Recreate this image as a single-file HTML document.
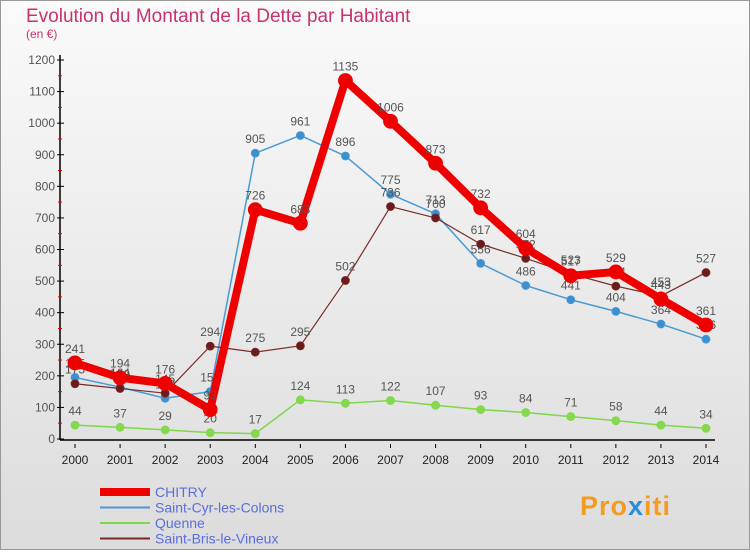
<!DOCTYPE html>
<html><head><meta charset="utf-8"><style>
body{margin:0;width:750px;height:550px;overflow:hidden;font-family:"Liberation Sans",sans-serif}
</style></head><body>
<svg width="750" height="550" xmlns="http://www.w3.org/2000/svg">
<defs><linearGradient id="bg" x1="0" y1="0" x2="0" y2="1"><stop offset="0" stop-color="#fafafa"/><stop offset="1" stop-color="#dcdcdc"/></linearGradient></defs>
<rect x="0.5" y="0.5" width="749" height="549" fill="url(#bg)" stroke="#999"/>
<text x="26" y="22" font-size="19" fill="#c8326e">Evolution du Montant de la Dette par Habitant</text>
<text x="26" y="38" font-size="12" fill="#c8326e">(en €)</text>
<g id="axes"></g><g id="series"></g><g id="legend"></g>
<text x="580" y="515" font-size="27" font-weight="bold" fill="#f39c1f" letter-spacing="1">Pro<tspan fill="#2a8fd8">x</tspan>iti</text>
</svg>
<script>
const years=["2000","2001","2002","2003","2004","2005","2006","2007","2008","2009","2010","2011","2012","2013","2014"];
const yTicks=[0,100,200,300,400,500,600,700,800,900,1000,1100,1200];
const chitry=[241,194,176,93,726,683,1135,1006,873,732,604,517,529,443,361];
const saintCyr=[195,164,129,150,905,961,896,775,713,556,486,441,404,364,316];
const quenne=[44,37,29,20,17,124,113,122,107,93,84,71,58,44,34];
const saintBris=[175,160,145,294,275,295,502,736,700,617,572,523,484,453,527];
const NS="http://www.w3.org/2000/svg";
const X=i=>75+i*(631/14);
const Y=v=>439-v*(379/1200);
function mk(t,a,p){const e=document.createElementNS(NS,t);for(const k in a)e.setAttribute(k,a[k]);p.appendChild(e);return e;}
const ax=document.getElementById('axes');
let l=mk('line',{x1:60,y1:55,x2:60,y2:440,stroke:'#000','stroke-width':1.5},ax);


l=mk('line',{x1:60,y1:440,x2:715,y2:440,stroke:'#000','stroke-width':1.5},ax);


yTicks.forEach(v=>{
 mk('line',{x1:57,y1:Y(v),x2:64,y2:Y(v),stroke:'#000'},ax);
 if(v<1200) mk('line',{x1:58,y1:Y(v+50),x2:62,y2:Y(v+50),stroke:'#e00'},ax);
 const t=mk('text',{x:55,y:Y(v)+4,'font-size':12,'text-anchor':'end',fill:'#555'},ax);t.textContent=v;
 
 
});
years.forEach((y,i)=>{
 mk('line',{x1:X(i),y1:444,x2:X(i),y2:448,stroke:'#000'},ax);
 const t=mk('text',{x:X(i),y:464,'font-size':12,'text-anchor':'middle',fill:'#222'},ax);t.textContent=y;
 
 
});
const sg=document.getElementById('series');
function series(name,data,color,w,r,dot){
 const g=mk('g',{},sg);
 
 
 mk('polyline',{points:data.map((v,i)=>X(i)+','+Y(v)).join(' '),fill:'none',stroke:color,'stroke-width':w,'stroke-linejoin':'round'},g);
 data.forEach((v,i)=>{
  const c=mk('circle',{cx:X(i),cy:Y(v),r:r,fill:dot,stroke:color,'stroke-width':0.8},g);
  
  
  const t=mk('text',{x:X(i),y:Y(v)-10,'font-size':12,'text-anchor':'middle',fill:'#555'},g);t.textContent=v;
  
  
 });
}
series('quenne',quenne,'#7dd84a',1.5,4,'#86d94e');
series('saint-cyr',saintCyr,'#4a9ad4',1.5,4,'#3d90d0');
series('saint-bris',saintBris,'#7a2a2a',1.2,4,'#6a1c1c');
series('chitry',chitry,'#ee0000',8,7,'#ee0000');
const lg=document.getElementById('legend');
[['CHITRY','#ee0000',8],['Saint-Cyr-les-Colons','#4a9ad4',2],['Quenne','#7dd84a',2],['Saint-Bris-le-Vineux','#7a2a2a',2]].forEach((d,i)=>{
 const y=492+i*15.5;
 const g=mk('g',{},lg);
 
 
 mk('line',{x1:100,y1:y,x2:150,y2:y,stroke:d[1],'stroke-width':d[2]},g);
 const t=mk('text',{x:155,y:y+5,'font-size':14,fill:'#5a6ee0'},g);t.textContent=d[0];
});
</script>
</body></html>
